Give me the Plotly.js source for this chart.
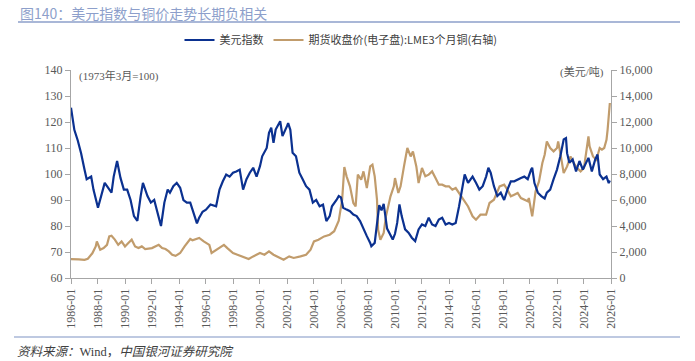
<!DOCTYPE html>
<html>
<head>
<meta charset="utf-8">
<script src="https://cdn.plot.ly/plotly-3.0.1.min.js"></script>
<style>
html,body{margin:0;padding:0;background:#fff;}
#chart{width:695px;height:361px;}
</style>
</head>
<body>
<div id="chart"></div>
<script>
// 美元指数 (1973年3月=100)
const dxyDates = ['1986-01','1986-04','1986-07','1986-10','1987-01','1987-03','1987-07','1987-09','1988-01','1988-03','1988-07','1988-09','1989-01','1989-03','1989-06','1989-09','1989-12','1990-03','1990-06','1990-09','1990-12','1991-03','1991-05','1991-09','1991-12','1992-03','1992-06','1992-09','1992-12','1993-03','1993-05','1993-08','1993-11','1994-02','1994-05','1994-08','1994-11','1995-02','1995-05','1995-07','1995-10','1996-01','1996-05','1996-10','1997-01','1997-04','1997-07','1997-10','1998-01','1998-04','1998-07','1998-10','1999-01','1999-04','1999-07','1999-10','2000-01','2000-03','2000-07','2000-09','2000-11','2001-01','2001-03','2001-07','2001-09','2002-01','2002-02','2002-04','2002-06','2002-09','2002-12','2003-03','2003-06','2003-09','2003-12','2004-03','2004-06','2004-09','2004-12','2005-03','2005-05','2005-09','2005-11','2006-01','2006-03','2006-06','2006-09','2006-12','2007-03','2007-06','2007-09','2007-12','2008-03','2008-04','2008-07','2008-09','2008-11','2009-01','2009-03','2009-06','2009-09','2009-11','2010-01','2010-03','2010-05','2010-07','2010-10','2011-01','2011-04','2011-07','2011-10','2012-01','2012-04','2012-07','2012-10','2013-01','2013-04','2013-07','2013-10','2014-01','2014-04','2014-07','2014-10','2015-01','2015-03','2015-06','2015-10','2016-01','2016-04','2016-07','2016-10','2016-12','2017-02','2017-05','2017-08','2017-11','2018-02','2018-05','2018-08','2018-11','2019-02','2019-05','2019-08','2019-11','2020-02','2020-03','2020-05','2020-08','2020-11','2021-02','2021-04','2021-07','2021-10','2022-01','2022-04','2022-07','2022-09','2022-10','2022-12','2023-03','2023-06','2023-09','2023-12','2024-02','2024-05','2024-08','2024-11','2025-01','2025-03','2025-06','2025-09','2025-11','2025-12'];
const dxyValues = [125.5,117,113,108,101.7,98,99,94,87,90,96.6,95.3,92.8,99,105,98.5,94,94,90,83.8,82,91.5,96.6,91.5,89,90,85,80,89,94,92.8,95.3,96.6,94.7,90,89,89,85,81,83.2,85.5,86.3,88.3,87.6,94,97.2,99.8,99,100.5,101,101.7,94,98,100.5,102.4,99,103,106.8,110,115.8,117.8,112,117.1,120.3,114.6,118.4,119.6,117,108.2,106.8,100.5,98,95.3,94,89,90,87.6,88.2,81.9,83.8,87.6,90,91.5,91,87,86.3,85.7,84.4,83.8,81.9,78.7,76.1,73.5,72.2,73.5,81.2,88,86,88.5,79,76.5,74.8,77,81.2,88.3,83.8,78.7,77.4,75.5,74.2,78.7,80.6,80,83.2,80.6,80,82.5,83.2,80.6,81.2,80.6,81.2,87.6,95.3,99.8,96.6,99,96.6,94,95.3,99,102.4,100.5,95.3,91.5,92.8,90,94,97.2,97.2,98,98.5,99,98,101.7,102.4,96.5,92.8,91.5,90.6,92.8,94,98,101.7,106.8,113.3,113.8,108,104.3,105.6,101,105,101.7,103.7,106.2,101,105.6,107.5,99.8,98,99,96.5,97.5];

// 期货收盘价(电子盘):LME3个月铜 (美元/吨)
const cuDates = ['1986-01','1986-04','1986-08','1987-01','1987-04','1987-08','1987-11','1987-12','1988-03','1988-06','1988-09','1988-11','1989-01','1989-04','1989-07','1989-10','1990-01','1990-04','1990-07','1990-10','1991-01','1991-04','1991-07','1992-01','1992-07','1992-10','1993-01','1993-04','1993-07','1993-10','1994-02','1994-06','1994-11','1995-01','1995-07','1995-11','1996-04','1996-06','1996-10','1997-02','1997-05','1997-08','1998-01','1998-05','1998-09','1999-03','1999-07','2000-01','2000-05','2000-09','2001-01','2001-07','2001-10','2002-03','2002-07','2003-01','2003-06','2003-10','2004-01','2004-05','2004-10','2005-03','2005-07','2005-11','2006-02','2006-04','2006-06','2006-09','2006-12','2007-02','2007-04','2007-07','2007-09','2007-12','2008-03','2008-05','2008-07','2008-09','2008-10','2008-12','2009-03','2009-05','2009-09','2009-12','2010-01','2010-04','2010-06','2010-09','2010-12','2011-03','2011-05','2011-08','2011-10','2012-01','2012-04','2012-07','2012-10','2013-01','2013-04','2013-07','2013-10','2014-01','2014-04','2014-07','2014-10','2015-01','2015-04','2015-06','2015-10','2016-01','2016-05','2016-10','2017-01','2017-05','2017-10','2018-02','2018-05','2018-08','2018-11','2019-02','2019-05','2019-08','2019-11','2019-12','2020-03','2020-04','2020-06','2020-09','2020-12','2021-02','2021-04','2021-07','2021-10','2022-01','2022-02','2022-04','2022-07','2022-10','2023-01','2023-04','2023-07','2023-10','2024-01','2024-05','2024-06','2024-09','2024-12','2025-03','2025-05','2025-07','2025-09','2025-10','2025-12'];
const cuValues = [1450,1460,1430,1400,1480,1900,2430,2815,2177,2300,2550,3200,3250,2950,2550,2815,2430,2690,2950,2430,2300,2430,2230,2300,2550,2300,2230,2050,1790,1700,1920,2430,3000,2900,3080,2815,2550,1923,2177,2430,2550,2300,1923,1790,1660,1460,1660,1923,1790,2050,1790,1540,1410,1660,1540,1660,1790,2177,2815,2950,3200,3330,3600,4400,6020,8540,7820,7050,5770,5510,7950,7560,8200,6920,8585,8715,7820,6020,3715,2950,3460,4740,6280,7050,7690,6540,7050,8585,10000,9350,9740,8585,7300,8460,7820,7950,8200,7690,7180,7180,7050,7050,6790,6920,6540,6150,5770,5500,4750,4485,4870,4870,5770,6020,7050,7180,6790,6280,6410,6540,6150,6020,5900,6150,4740,5380,6670,7430,8840,9480,10500,10000,9740,10000,10500,9610,8070,8585,9350,8840,8460,8200,8460,10900,10120,9350,9100,10000,9870,10000,10630,11400,13460];

const BLUE = '#0b3190';
const TAN = '#c19c6c';
const GREY_TXT = '#595959';
const AXIS = '#a6a6a6';
const RULE = '#a9b7d7';

const traces = [
  {
    x: cuDates, y: cuValues, type: 'scatter', mode: 'lines',
    name: '期货收盘价(电子盘):LME3个月铜(右轴)',
    line: {color: TAN, width: 2.2}, yaxis: 'y', legendrank: 2
  },
  {
    x: dxyDates, y: dxyValues, type: 'scatter', mode: 'lines',
    name: '美元指数',
    line: {color: BLUE, width: 2.2}, yaxis: 'y2', legendrank: 1
  }
];

const FONT = 'Liberation Serif, "Noto Sans CJK SC", serif';
const CJK = '"Noto Sans CJK SC", "Liberation Serif", sans-serif';

const layout = {
  width: 695, height: 361,
  margin: {l: 71, r: 84, t: 70, b: 83, pad: 0},
  paper_bgcolor: '#fff', plot_bgcolor: '#fff',
  font: {family: FONT, size: 12, color: GREY_TXT},
  showlegend: true,
  legend: {
    orientation: 'h', x: 0.5, xanchor: 'center', y: (278 - 40)/208, yanchor: 'middle',
    font: {family: CJK, size: 11, color: '#404040'}, bgcolor: 'rgba(0,0,0,0)'
  },
  xaxis: {
    type: 'date',
    range: ['1986-01-01', '2026-01-01'],
    tick0: '1986-01-01', dtick: 'M24', tickformat: '%Y-%m',
    tickangle: -90,
    ticks: 'outside', ticklen: 5, tickcolor: AXIS,
    showline: true, linecolor: AXIS, linewidth: 1,
    showgrid: false, zeroline: false,
    tickfont: {family: FONT, size: 12, color: GREY_TXT}
  },
  yaxis: {
    side: 'right', range: [0, 16000], dtick: 2000, tickformat: ',d',
    ticks: 'outside', ticklen: 5, tickcolor: AXIS,
    showline: true, linecolor: AXIS, linewidth: 1,
    showgrid: false, zeroline: false,
    tickfont: {family: FONT, size: 12, color: GREY_TXT}
  },
  yaxis2: {
    overlaying: 'y', side: 'left', range: [60, 140], dtick: 10,
    ticks: 'outside', ticklen: 5, tickcolor: AXIS,
    showline: true, linecolor: AXIS, linewidth: 1,
    showgrid: false, zeroline: false,
    tickfont: {family: FONT, size: 12, color: GREY_TXT}
  },
  shapes: [
    {type: 'line', xref: 'paper', yref: 'paper', x0: (18-71)/540, x1: (680-71)/540,
     y0: (278-22)/208, y1: (278-22)/208, line: {color: RULE, width: 2}},
    {type: 'line', xref: 'paper', yref: 'paper', x0: (14-71)/540, x1: (680-71)/540,
     y0: (278-337)/208, y1: (278-337)/208, line: {color: RULE, width: 1.5}}
  ],
  annotations: [
    {text: '图140：美元指数与铜价走势长期负相关', xref: 'paper', yref: 'paper',
     x: (19-71)/540, y: (278-2)/208, xanchor: 'left', yanchor: 'top', showarrow: false,
     borderpad: 0, font: {family: CJK, size: 14, color: '#8d9fcb'}},
    {text: '(1973年3月=100)', xref: 'paper', yref: 'paper', x: (77-71)/540, y: (278-76)/208,
     xanchor: 'left', yanchor: 'middle', showarrow: false,
     font: {family: FONT, size: 11, color: GREY_TXT}},
    {text: '(美元/吨)', xref: 'paper', yref: 'paper', x: (606-71)/540, y: (278-73)/208,
     xanchor: 'right', yanchor: 'middle', showarrow: false,
     font: {family: FONT, size: 11, color: GREY_TXT}},
    {text: '<i>资料来源：</i>Wind，<i>中国银河证券研究院</i>', xref: 'paper', yref: 'paper', x: (15-71)/540, y: (278-352)/208,
     xanchor: 'left', yanchor: 'middle', showarrow: false,
     font: {family: FONT, size: 12.5, color: '#404040'}}
  ]
};

Plotly.newPlot('chart', traces, layout, {displayModeBar: false, staticPlot: true});
</script>
</body>
</html>
